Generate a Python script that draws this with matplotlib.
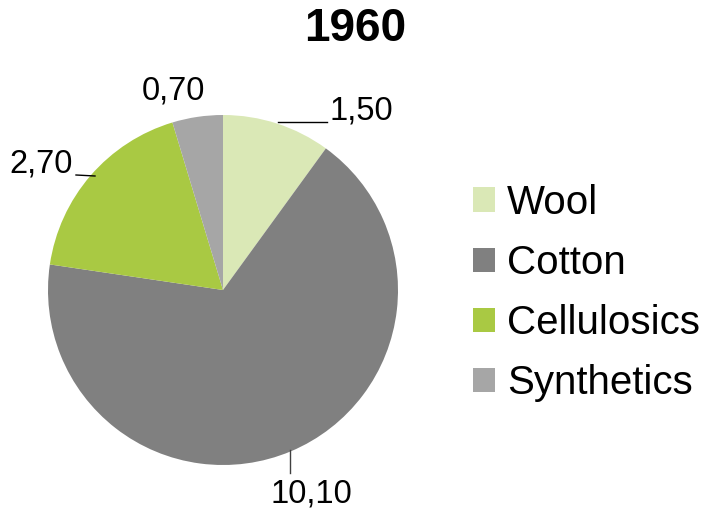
import matplotlib
matplotlib.use("Agg")
import matplotlib.pyplot as plt
from matplotlib.patches import Patch

plt.rcParams['font.family'] = ['Liberation Sans', 'DejaVu Sans']

title = "1960"
categories = ["Wool", "Cotton", "Cellulosics", "Synthetics"]
values = [1.5, 10.1, 2.7, 0.7]
value_labels = ["1,50", "10,10", "2,70", "0,70"]
colors = ["#dae8b6", "#808080", "#a9c943", "#a6a6a6"]

W, H = 706, 513
fig = plt.figure(figsize=(W / 100, H / 100), dpi=100)

cx, cy, r = 223, 290, 175
ax = fig.add_axes([(cx - r) / W, (H - cy - r) / H, 2 * r / W, 2 * r / H])
wedges, _ = ax.pie(values, colors=colors, startangle=90, counterclock=False,
                   radius=1, wedgeprops=dict(linewidth=0))
ax.set_xlim(-1, 1)
ax.set_ylim(-1, 1)
ax.set_aspect('equal')
ax.axis('off')

def px(x, y):
    # pixel (from top-left) to data coords of the pie axes
    return ((x - cx) / r, (cy - y) / r)

fs = 23.5
# Wool label with leader line
ax.plot(*zip(px(278, 122), px(327, 122)), color='black', lw=1, clip_on=False)
ax.text(*px(330, 111), value_labels[0], ha='left', va='center', fontsize=fs)
# Cotton label
ax.plot(*zip(px(290, 450), px(290, 473)), color='#404040', lw=1, clip_on=False)
ax.text(*px(311, 494), value_labels[1], ha='center', va='center', fontsize=fs)
# Cellulosics label
ax.plot(*zip(px(76, 175), px(95, 176)), color='black', lw=1, clip_on=False)
ax.text(*px(73, 164), value_labels[2], ha='right', va='center', fontsize=fs)
# Synthetics label
ax.text(*px(173, 91), value_labels[3], ha='center', va='center', fontsize=fs)

fig.text(355 / W, 1 - 29 / H, title, ha='center', va='center',
         fontsize=33, fontweight='bold')

handles = [Patch(facecolor=c, edgecolor='none') for c in colors]
leg = fig.legend(handles, categories, loc='center left',
                 bbox_to_anchor=(473 / W, 1 - 293 / H), frameon=False,
                 fontsize=29, handlelength=0.55, handleheight=0.55,
                 handletextpad=0.3, labelspacing=0.55, borderpad=0,
                 borderaxespad=0)

fig.savefig("out.png", dpi=100)
